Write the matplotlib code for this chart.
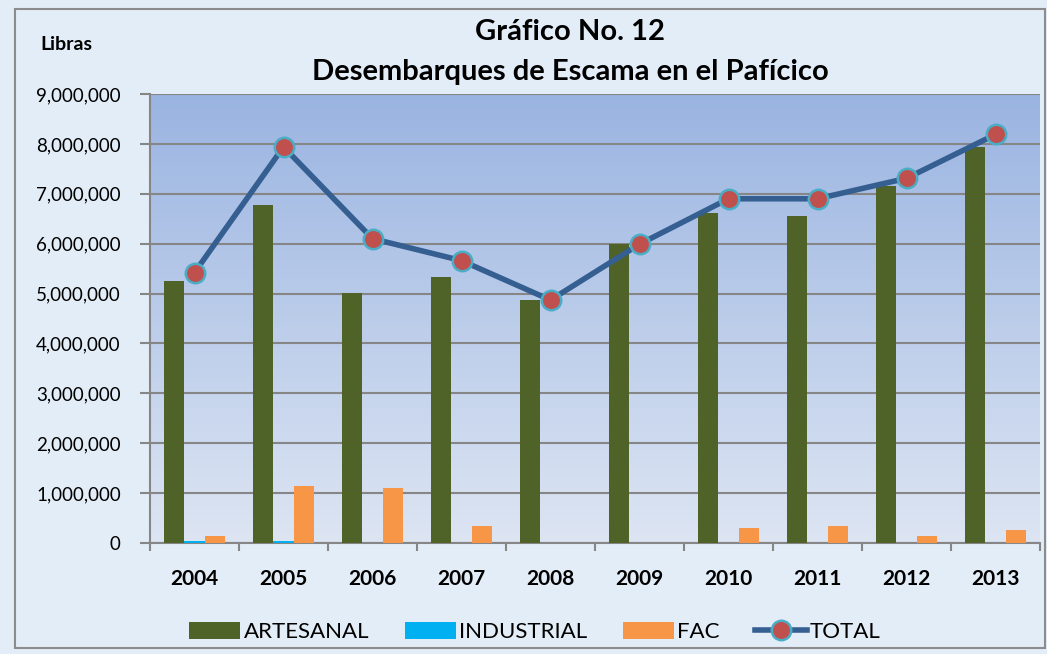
import numpy as np
import matplotlib
matplotlib.use('Agg')
import matplotlib.pyplot as plt
from matplotlib.patches import Rectangle
from matplotlib.ticker import FuncFormatter

plt.rcParams['font.family'] = ['Lato', 'DejaVu Sans']

years = ['2004', '2005', '2006', '2007', '2008', '2009', '2010', '2011', '2012', '2013']
artesanal = [5250000, 6770000, 5010000, 5330000, 4870000, 5990000, 6610000, 6550000, 7150000, 7940000]
industrial = [40000, 40000, 0, 0, 0, 0, 0, 0, 0, 0]
fac = [140000, 1140000, 1100000, 340000, 0, 0, 300000, 340000, 140000, 260000]
total = [5420000, 7940000, 6100000, 5660000, 4870000, 5990000, 6900000, 6900000, 7310000, 8190000]

fig = plt.figure(figsize=(10.47, 6.54), dpi=100)
fig.patch.set_facecolor('#e3edf7')
fig.patches.append(Rectangle((15 / 1047, 1 - 648 / 654), 1030 / 1047, 639 / 654,
                             transform=fig.transFigure, fill=False,
                             edgecolor='#8c8c8c', linewidth=1.5))

ax = fig.add_axes([150 / 1047, 1 - 543 / 654, 890 / 1047, 449 / 654])
ax.set_facecolor('none')

# gradient background of plot area
grad = np.linspace(0, 1, 256).reshape(-1, 1)
cmap = matplotlib.colors.LinearSegmentedColormap.from_list('bg', ['#dde5f3', '#9ab4e1'])
ax.imshow(grad, extent=[0, 1, 0, 1], transform=ax.transAxes, origin='lower',
          cmap=cmap, aspect='auto', zorder=0)

x = np.arange(len(years))
w = 0.225
ax.bar(x - w, artesanal, w, color='#4f6228', label='ARTESANAL', zorder=3)
ax.bar(x, industrial, w, color='#00b0f0', label='INDUSTRIAL', zorder=3)
ax.bar(x + w, fac, w, color='#f79646', label='FAC', zorder=3)
ax.plot(x, total, color='#355f91', linewidth=4, marker='o', markersize=14,
        markerfacecolor='#c0504d', markeredgecolor='#4bacc6', markeredgewidth=1.8,
        label='TOTAL', zorder=4)

ax.set_xlim(-0.5, len(years) - 0.5)
ax.set_ylim(0, 9000000)
ax.set_yticks(np.arange(0, 9000001, 1000000))
ax.yaxis.set_major_formatter(FuncFormatter(lambda v, p: f'{int(v):,}'))
ax.yaxis.grid(True, color='#868686', linewidth=1.5, zorder=1)
ax.set_axisbelow(True)

ax.set_xticks(x)
ax.set_xticklabels(years, fontweight='bold', fontsize=15)
ax.set_xticks(np.arange(-0.5, len(years), 1), minor=True)
ax.tick_params(axis='x', which='major', length=0, pad=19)
ax.tick_params(axis='x', which='minor', length=6, color='#868686', width=1.5)
ax.tick_params(axis='y', length=7, color='#868686', width=1.5, labelsize=13.5, pad=14)

for s in ['top', 'right']:
    ax.spines[s].set_visible(False)
for s in ['left', 'bottom']:
    ax.spines[s].set_color('#868686')
    ax.spines[s].set_linewidth(1.5)

fig.text(570 / 1047, 1 - 32 / 654, 'Gráfico No. 12', ha='center', va='center',
         fontsize=21, fontweight='bold')
fig.text(570 / 1047, 1 - 72 / 654, 'Desembarques de Escama en el Pafícico', ha='center',
         va='center', fontsize=21, fontweight='bold')
fig.text(40 / 1047, 1 - 45 / 654, 'Libras', ha='left', va='center', fontsize=14,
         fontweight='bold')

handles, labels = ax.get_legend_handles_labels()
order = [1, 2, 3, 0]
fig.legend([handles[i] for i in order], [labels[i] for i in order],
           loc='center', bbox_to_anchor=(535 / 1047, 1 - 632 / 654), ncol=4,
           frameon=False, fontsize=16, handlelength=2.3, handleheight=0.8,
           columnspacing=1.6, handletextpad=0.15)

fig.savefig('out.png', dpi=100, facecolor=fig.get_facecolor())
